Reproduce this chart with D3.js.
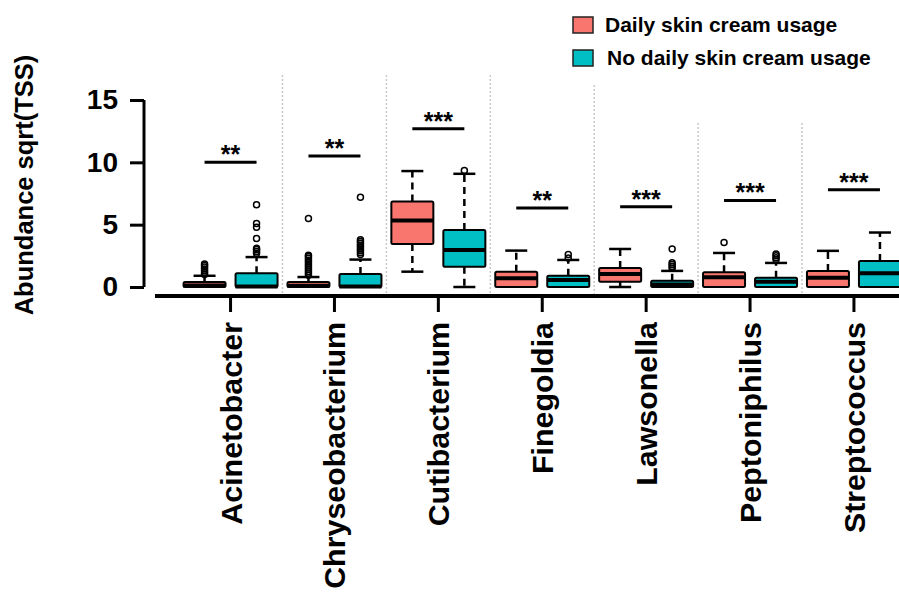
<!DOCTYPE html>
<html>
<head>
<meta charset="utf-8">
<script src="https://cdn.jsdelivr.net/npm/d3@7"></script>
<style>
  body { margin: 0; background: #fff; }
  text { font-family: "Liberation Sans", Arial, sans-serif; font-weight: bold; fill: #000; }
</style>
</head>
<body>
<div class="chart"></div>
<script>
// data (sqrt TSS abundance)
var genera = ["Acinetobacter", "Chryseobacterium", "Cutibacterium", "Finegoldia",
              "Lawsonella", "Peptoniphilus", "Streptococcus"];
var groups = ["Daily skin cream usage", "No daily skin cream usage"];

// [min, q1, median, q3, max] of whiskers/box
var dailyStats = [
    [0, 0, 0.12, 0.4, 0.9],
    [0, 0, 0.1, 0.4, 0.8],
    [1.23, 3.45, 5.33, 6.85, 9.3],
    [0, 0, 0.7, 1.23, 2.92],
    [0, 0.43, 1.04, 1.53, 3.05],
    [0, 0, 0.78, 1.18, 2.73],
    [0, 0, 0.75, 1.29, 2.9]
];
var noDailyStats = [
    [0, 0, 0.05, 1.1, 2.4],
    [0, 0, 0.05, 1.05, 2.2],
    [0, 1.63, 2.97, 4.58, 9.08],
    [0, 0, 0.56, 0.9, 2.17],
    [0, 0, 0.2, 0.5, 1.29],
    [0, 0, 0.43, 0.75, 1.93],
    [0, 0, 1.1, 2.09, 4.37]
];
var dailyOutliers = [
    [1.0, 1.15, 1.3, 1.45, 1.6, 1.75, 1.85],
    [0.95, 1.1, 1.25, 1.4, 1.55, 1.7, 1.85, 2.0, 2.15, 2.3, 2.45, 2.55, 5.5],
    [],
    [],
    [],
    [3.56],
    []
];
var noDailyOutliers = [
    [2.7, 2.85, 3.0, 3.1, 3.9, 4.8, 5.1, 6.6],
    [2.6, 2.75, 2.9, 3.05, 3.2, 3.35, 3.5, 3.65, 3.8, 7.2],
    [9.35],
    [2.33, 2.6],
    [1.5, 1.65, 1.8, 1.95, 3.05],
    [2.2, 2.35, 2.5, 2.65],
    []
];
var sigLabels = ["**", "**", "***", "**", "***", "***", "***"];
var sigHeights = [10.0, 10.5, 12.7, 6.33, 6.43, 6.94, 7.8];
var yTicks = [0, 5, 10, 15];

var colors = ["#F8766D", "#00BFC4"];

// layout
var svgWidth = 899;
var svgHeight = 593;
var separatorTop = [75, 75, 75, 85, 123, 123];

var svg = d3.select(".chart")
    .append("svg")
    .attr("width", svgWidth)
    .attr("height", svgHeight);

var xScale = d3.scaleBand().domain(genera).range([178.6, 905.9]).padding(0);
var yScale = d3.scaleLinear().domain([0, 15]).range([287, 100]);

var boxW = 42;
var offset = [-26, 26];

// dotted separators between genera
svg.selectAll(".sep")
    .data(genera.slice(1))
    .enter()
    .append("line")
    .attr("class", "sep")
    .attr("x1", function (d) { return xScale(d); })
    .attr("x2", function (d) { return xScale(d); })
    .attr("y1", function (d, i) { return separatorTop[i]; })
    .attr("y2", 294)
    .attr("stroke", "#c8c8c8")
    .attr("stroke-width", 1.5)
    .attr("stroke-dasharray", "2,2");

// boxes
var allStats = [dailyStats, noDailyStats];
var allOutliers = [dailyOutliers, noDailyOutliers];

allStats.forEach(function (stats, g) {
    var grp = svg.append("g");
    stats.forEach(function (s, i) {
        var cx = xScale(genera[i]) + xScale.bandwidth() / 2 + offset[g];
        var b = grp.append("g");
        // upper whisker
        if (s[4] > s[3]) {
            b.append("line")
                .attr("x1", cx).attr("x2", cx)
                .attr("y1", yScale(s[3])).attr("y2", yScale(s[4]))
                .attr("stroke", "#000").attr("stroke-width", 2.5)
                .attr("stroke-dasharray", "7,5");
            b.append("line")
                .attr("x1", cx - 11).attr("x2", cx + 11)
                .attr("y1", yScale(s[4])).attr("y2", yScale(s[4]))
                .attr("stroke", "#000").attr("stroke-width", 2.5);
        }
        // lower whisker
        if (s[0] < s[1]) {
            b.append("line")
                .attr("x1", cx).attr("x2", cx)
                .attr("y1", yScale(s[1])).attr("y2", yScale(s[0]))
                .attr("stroke", "#000").attr("stroke-width", 2.5)
                .attr("stroke-dasharray", "7,5");
            b.append("line")
                .attr("x1", cx - 11).attr("x2", cx + 11)
                .attr("y1", yScale(s[0])).attr("y2", yScale(s[0]))
                .attr("stroke", "#000").attr("stroke-width", 2.5);
        }
        b.append("rect")
            .attr("x", cx - boxW / 2)
            .attr("y", yScale(s[3]))
            .attr("width", boxW)
            .attr("height", Math.max(yScale(s[1]) - yScale(s[3]), 1))
            .attr("fill", colors[g])
            .attr("stroke", "#000")
            .attr("stroke-width", 2)
            .attr("rx", 1.5);
        b.append("line")
            .attr("x1", cx - boxW / 2).attr("x2", cx + boxW / 2)
            .attr("y1", yScale(s[2])).attr("y2", yScale(s[2]))
            .attr("stroke", "#000").attr("stroke-width", 4);
        // outliers
        b.selectAll("circle")
            .data(allOutliers[g][i])
            .enter()
            .append("circle")
            .attr("cx", cx)
            .attr("cy", function (d) { return yScale(d); })
            .attr("r", 3)
            .attr("fill", "none")
            .attr("stroke", "#000")
            .attr("stroke-width", 1.5);
    });
});

// significance bars
var sig = svg.append("g");
genera.forEach(function (gName, i) {
    var c = xScale(gName) + xScale.bandwidth() / 2;
    var yy = yScale(sigHeights[i]);
    sig.append("line")
        .attr("x1", c + offset[0]).attr("x2", c + offset[1])
        .attr("y1", yy).attr("y2", yy)
        .attr("stroke", "#000").attr("stroke-width", 3);
    sig.append("text")
        .attr("x", c)
        .attr("y", yy + 1)
        .attr("text-anchor", "middle")
        .attr("font-size", "25px")
        .text(sigLabels[i]);
});

// y axis
var yAxis = d3.axisLeft(yScale).tickValues(yTicks).tickSize(14).tickPadding(12);
var yG = svg.append("g")
    .attr("transform", "translate(144,0)")
    .call(yAxis);
yG.select(".domain").attr("stroke-width", 3).attr("d", "M0," + yScale(15) + "V" + yScale(0));
yG.selectAll(".tick line").attr("stroke-width", 3);
yG.selectAll(".tick text")
    .attr("font-size", "28px")
    .attr("font-family", "Liberation Sans, Arial, sans-serif")
    .attr("font-weight", "bold");

// x axis
var xAxis = d3.axisBottom(xScale).tickSize(16).tickSizeOuter(0);
var xG = svg.append("g")
    .attr("transform", "translate(0,296)")
    .call(xAxis);
xG.select(".domain").attr("stroke-width", 4).attr("d", "M155,0H899");
xG.selectAll(".tick line").attr("stroke-width", 3);
xG.selectAll(".tick text")
    .attr("font-size", "30.4px")
    .attr("font-family", "Liberation Sans, Arial, sans-serif")
    .attr("font-weight", "bold")
    .attr("text-anchor", "end")
    .attr("transform", "translate(0,26) rotate(-90)")
    .attr("x", 0)
    .attr("y", 0)
    .attr("dy", "0.36em");

// y axis title
svg.append("text")
    .attr("transform", "translate(33,185) rotate(-90)")
    .attr("text-anchor", "middle")
    .attr("font-size", "25.5px")
    .text("Abundance sqrt(TSS)");

// legend
var legend = svg.append("g");
groups.forEach(function (gName, i) {
    legend.append("rect")
        .attr("x", 573)
        .attr("y", 17 + i * 33)
        .attr("width", 20)
        .attr("height", 16)
        .attr("fill", colors[i])
        .attr("stroke", "#222")
        .attr("stroke-width", 1.5);
    legend.append("text")
        .attr("x", 605 + i * 2)
        .attr("y", 25 + i * 33)
        .attr("dy", "0.35em")
        .attr("font-size", "21px")
        .text(gName);
});
</script>
</body>
</html>
